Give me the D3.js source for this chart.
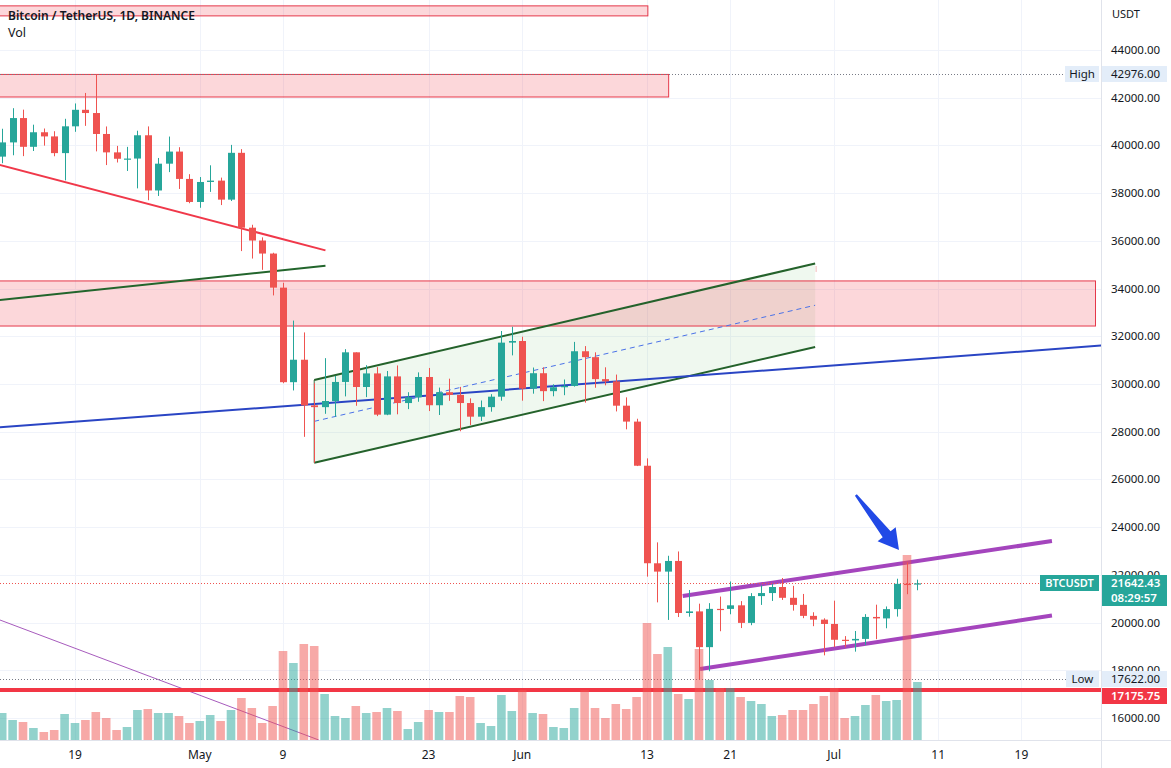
<!DOCTYPE html>
<html><head><meta charset="utf-8">
<script src="https://cdn.jsdelivr.net/npm/d3@7"></script>
<style>
html,body{margin:0;padding:0;background:#fff;overflow:hidden;}
svg{display:block;font-family:"Noto Sans","Open Sans",Roboto,sans-serif;}
</style></head><body>
<svg id="c" width="1171" height="768"></svg>
<script>
// ---------------- DATA ----------------
const dates = [
"2022-04-12","2022-04-13","2022-04-14","2022-04-15","2022-04-16","2022-04-17","2022-04-18","2022-04-19","2022-04-20","2022-04-21",
"2022-04-22","2022-04-23","2022-04-24","2022-04-25","2022-04-26","2022-04-27","2022-04-28","2022-04-29","2022-04-30",
"2022-05-01","2022-05-02","2022-05-03","2022-05-04","2022-05-05","2022-05-06","2022-05-07","2022-05-08","2022-05-09","2022-05-10",
"2022-05-11","2022-05-12","2022-05-13","2022-05-14","2022-05-15","2022-05-16","2022-05-17","2022-05-18","2022-05-19","2022-05-20",
"2022-05-21","2022-05-22","2022-05-23","2022-05-24","2022-05-25","2022-05-26","2022-05-27","2022-05-28","2022-05-29","2022-05-30","2022-05-31",
"2022-06-01","2022-06-02","2022-06-03","2022-06-04","2022-06-05","2022-06-06","2022-06-07","2022-06-08","2022-06-09","2022-06-10",
"2022-06-11","2022-06-12","2022-06-13","2022-06-14","2022-06-15","2022-06-16","2022-06-17","2022-06-18","2022-06-19","2022-06-20",
"2022-06-21","2022-06-22","2022-06-23","2022-06-24","2022-06-25","2022-06-26","2022-06-27","2022-06-28","2022-06-29","2022-06-30",
"2022-07-01","2022-07-02","2022-07-03","2022-07-04","2022-07-05","2022-07-06","2022-07-07","2022-07-08","2022-07-09"];
const open = [
39530,40127,41147,39942,40552,40378,39678,40801,41493,41358,
40480,39709,39441,39450,40426,38112,39235,39742,38596,
37630,38468,38525,37728,39690,36552,36014,35468,34039,30076,
31017,29103,29030,29287,30086,31328,29874,30444,28715,30319,
29201,29445,30294,29110,29655,29543,29202,28630,29031,29468,31734,
31802,29805,30452,29700,29864,29919,31373,31125,30204,30109,
29091,28424,26574,22485,22136,22583,20401,20468,18970,20574,
20573,20723,19987,21110,21237,21491,21038,20742,20281,20123,
19942,19279,19252,19315,20236,20175,20564,21624,21594];
const high = [
40699,41561,41500,40870,40709,40595,41116,41760,42199,42976,
40795,39980,39940,40616,40797,39474,40372,39925,38795,
38675,39167,38651,40023,39845,36675,36146,35502,34243,32658,
32162,30032,31083,30343,31460,31328,30788,30709,30545,30777,
29656,30487,30672,29850,30223,29879,29398,29309,29573,32222,32399,
31982,30690,30699,29988,30189,31765,31589,31327,30700,30395,
29440,28544,26883,23362,22800,22981,21365,20792,20815,21090,
21723,20900,21233,21558,21614,21868,21539,21200,20432,20179,
20918,19433,19647,20354,20750,20675,21838,22527,21800];
const low = [
39254,39588,39551,39766,39991,39546,38536,40571,40820,39751,
39177,39285,38929,38200,37702,37881,38881,38175,37578,
37386,38052,37500,37670,35571,35258,34785,33713,30033,29730,
27785,26700,28751,28630,29480,29087,29450,28654,28693,28730,
28947,29255,28866,28701,29294,28019,28282,28450,28839,29299,31200,
29301,29594,29282,29485,29531,29890,29218,29843,29944,28850,
28100,26560,21925,20846,20111,20232,20246,17622,17960,19637,
20348,19770,19890,20740,20906,20950,20500,20185,19849,18626,
18975,18966,18781,19055,19304,19761,20250,21189,21355];
const close = [
40127,41147,39942,40552,40378,39678,40801,41493,41358,40480,
39709,39441,39450,40426,38112,39235,39742,38596,37630,
38468,38525,37728,39690,36552,36014,35468,34039,30076,31017,
29103,29030,29287,30086,31328,29874,30444,28715,30319,29201,
29445,30294,29110,29655,29543,29202,28630,29031,29468,31734,31802,
29805,30452,29700,29864,29919,31373,31125,30204,30109,29091,
28424,26574,22487,22136,22583,20401,20468,18970,20574,20573,
20723,19987,21110,21237,21491,21038,20742,20281,20123,19942,
19279,19252,19315,20236,20175,20564,21624,21594,21642.43];
const volume = [ // thousands
27,20,18,12,8,10,26,17,20,28,22,10,13,30,31,27,27,24,17,
19,25,19,30,42,32,17,34,89,77,96,94,46,24,22,34,27,28,32,29,11,18,30,28,28,44,43,17,14,45,29,
50,27,26,13,12,32,50,32,22,36,31,43,117,86,93,46,41,91,60,52,52,43,39,36,24,25,30,30,36,44,
52,22,24,35,45,39,40,185,58];

const priceTicks = [16000,18000,20000,22000,24000,26000,28000,30000,32000,34000,36000,38000,40000,42000,44000];
const timeTickDates = ["2022-04-19","2022-05-01","2022-05-09","2022-05-23","2022-06-01","2022-06-13","2022-06-21","2022-07-01","2022-07-11","2022-07-19"];
const timeTickLabels = ["19","May","9","23","Jun","13","21","Jul","11","19"];

const symbolTitle = "Bitcoin / TetherUS, 1D, BINANCE";
const lastPrice = 21642.43;
const countdown = "08:29:57";
const supportLevel = 17175.75;

// drawings (date, price)
const zoneBoxes = [
  {x0:"2022-04-01T00:00", x1:"2022-06-13T02:00", top:45850, bottom:45430},
  {x0:"2022-04-01T00:00", x1:"2022-06-15T02:00", top:42976, bottom:42030},
  {x0:"2022-04-01T00:00", x1:"2022-07-26T03:00", top:34320, bottom:32430}
];
const redTrend    = [["2022-04-11T00:00",39270],["2022-05-13T02:00",35600]];
const greenTrend  = [["2022-04-11T00:00",33484],["2022-05-13T02:00",34960]];
const blueTrend   = [["2022-04-11T00:00",28160],["2022-07-27T00:00",31621]];
const violetTrend = [["2022-04-11T00:00",20236],["2022-05-12T10:30",15078]];
const channelDates = ["2022-05-12T00:00","2022-06-29T04:00"];
const channelUpper = [30168,35051];
const channelLower = [26700,31550];
const purpleUpper = [["2022-06-16T10:24",21114],["2022-07-21T22:30",23419]];
const purpleLower = [["2022-06-18T02:24",18054],["2022-07-21T22:30",20296]];
const arrowTail = ["2022-07-03T02:00",25347];
const arrowTip  = ["2022-07-07T05:30",23042];

// ---------------- CHART ----------------
const W = 1171, H = 768, plotRight = 1101, paneBottom = 740;
const UP = "#26a69a", DOWN = "#ef5350";
const pd = d3.utcParse("%Y-%m-%d");
const pt = d3.utcParse("%Y-%m-%dT%H:%M");

const x = d3.scaleUtc().domain([pd("2022-04-12"), pd("2022-07-19")]).range([2.2, 1021.4]);
const y = d3.scaleLinear().domain([16000, 44000]).range([718, 50]);
const yv = d3.scaleLinear().domain([0, 185]).range([paneBottom, 555]);

const svg = d3.select("#c");
svg.append("rect").attr("width",W).attr("height",H).attr("fill","#fff");
svg.append("defs").append("clipPath").attr("id","plot")
  .append("rect").attr("x",0).attr("y",0).attr("width",plotRight).attr("height",paneBottom);

const plot = svg.append("g").attr("clip-path","url(#plot)");

// grid
plot.append("g").selectAll("line").data(priceTicks).join("line")
  .attr("x1",0).attr("x2",plotRight)
  .attr("y1",d=>Math.round(y(d))+0.5).attr("y2",d=>Math.round(y(d))+0.5)
  .attr("stroke","#f0f3fa").attr("stroke-width",1);
plot.append("g").selectAll("line").data(timeTickDates).join("line")
  .attr("x1",d=>Math.round(x(pd(d)))+0.5).attr("x2",d=>Math.round(x(pd(d)))+0.5)
  .attr("y1",0).attr("y2",paneBottom)
  .attr("stroke","#f0f3fa").attr("stroke-width",1);

// green channel fill (below zones)
const cx0 = x(pt(channelDates[0])), cx1 = x(pt(channelDates[1]));
plot.append("path")
  .attr("d", `M${cx0},${y(channelUpper[0])}L${cx1},${y(channelUpper[1])}L${cx1},${y(channelLower[1])}L${cx0},${y(channelLower[0])}Z`)
  .attr("fill","rgba(76,175,80,0.09)");

// zone boxes
plot.append("g").selectAll("rect").data(zoneBoxes).join("rect")
  .attr("x",d=>x(pt(d.x0))).attr("width",d=>x(pt(d.x1))-x(pt(d.x0)))
  .attr("y",d=>y(d.top)).attr("height",d=>y(d.bottom)-y(d.top))
  .attr("fill","rgba(242,54,69,0.2)").attr("stroke","#e5384a").attr("stroke-width",1);

// channel lines
plot.append("line").attr("x1",cx0).attr("x2",cx0).attr("y1",y(channelUpper[0])).attr("y2",y(channelLower[0]))
  .attr("stroke","#3d6e42").attr("stroke-width",1);
plot.append("line").attr("x1",cx0).attr("x2",cx1)
  .attr("y1",y((channelUpper[0]+channelLower[0])/2)).attr("y2",y((channelUpper[1]+channelLower[1])/2))
  .attr("stroke","#4a72e8").attr("stroke-width",1).attr("stroke-dasharray","5,4");
[channelUpper, channelLower].forEach(c=>{
  plot.append("line").attr("x1",cx0).attr("x2",cx1).attr("y1",y(c[0])).attr("y2",y(c[1]))
    .attr("stroke","#24622b").attr("stroke-width",2);
});
plot.append("line").attr("x1",cx1+1).attr("x2",cx1+1).attr("y1",y(channelUpper[1])+3).attr("y2",y(channelUpper[1])+9)
  .attr("stroke","#e57373").attr("stroke-width",1).attr("stroke-dasharray","1,1");

// trend lines
function seg(p, color, w){
  plot.append("line")
    .attr("x1",x(pt(p[0][0]))).attr("y1",y(p[0][1]))
    .attr("x2",x(pt(p[1][0]))).attr("y2",y(p[1][1]))
    .attr("stroke",color).attr("stroke-width",w).attr("stroke-linecap","butt");
}
seg(redTrend, "#f0384a", 2);
seg(greenTrend, "#22652c", 2);
seg(blueTrend, "#2a45c4", 2);
seg(violetTrend, "#a75bbd", 1);
seg(purpleUpper, "#a445bd", 4);
seg(purpleLower, "#a445bd", 4);

// horizontal levels
const hiVal = d3.max(high), loVal = d3.min(low);
plot.append("line").attr("x1",0).attr("x2",plotRight).attr("y1",y(supportLevel)).attr("y2",y(supportLevel))
  .attr("stroke","#f23645").attr("stroke-width",4);
plot.append("line").attr("x1",0).attr("x2",1065).attr("y1",Math.round(y(hiVal))+0.5).attr("y2",Math.round(y(hiVal))+0.5)
  .attr("stroke","#787b86").attr("stroke-width",1).attr("stroke-dasharray","1,2");
plot.append("line").attr("x1",0).attr("x2",1066).attr("y1",Math.round(y(loVal))+0.5).attr("y2",Math.round(y(loVal))+0.5)
  .attr("stroke","#787b86").attr("stroke-width",1).attr("stroke-dasharray","1,2");
plot.append("line").attr("x1",0).attr("x2",1040).attr("y1",Math.round(y(lastPrice))+0.5).attr("y2",Math.round(y(lastPrice))+0.5)
  .attr("stroke","#ef5350").attr("stroke-width",1).attr("stroke-dasharray","1,2");

// data
const bars = dates.map((d,i)=>({t:pd(d), o:open[i], h:high[i], l:low[i], c:close[i], v:volume[i]}));

// volume
const vw = 8.6;
plot.append("g").selectAll("rect").data(bars).join("rect")
  .attr("x",d=>x(d.t)-vw/2).attr("width",vw)
  .attr("y",d=>yv(d.v)).attr("height",d=>paneBottom-yv(d.v))
  .attr("fill",d=>d.c>=d.o?"rgba(38,166,154,0.5)":"rgba(239,83,80,0.5)");

// candles
const bw = 7;
const cg = plot.append("g").selectAll("g").data(bars).join("g");
cg.append("line")
  .attr("x1",d=>Math.round(x(d.t))+0.5).attr("x2",d=>Math.round(x(d.t))+0.5)
  .attr("y1",d=>y(d.h)).attr("y2",d=>y(d.l))
  .attr("stroke",d=>d.c>=d.o?UP:DOWN).attr("stroke-width",1);
cg.append("rect")
  .attr("x",d=>Math.round(x(d.t))+0.5-bw/2).attr("width",bw)
  .attr("y",d=>y(Math.max(d.o,d.c)))
  .attr("height",d=>Math.max(1.2, Math.abs(y(d.o)-y(d.c))))
  .attr("fill",d=>d.c>=d.o?UP:DOWN);

// arrow
(function(){
  const tx = x(pt(arrowTail[0])), ty = y(arrowTail[1]);
  const px = x(pt(arrowTip[0])), py = y(arrowTip[1]);
  const L = Math.hypot(px-tx, py-ty), ux=(px-tx)/L, uy=(py-ty)/L, nx=-uy, ny=ux;
  const bx = px-ux*20, by = py-uy*20;
  const P = [[tx+nx*1.2,ty+ny*1.2],[bx+nx*5,by+ny*5],[bx+nx*11.5,by+ny*11.5],[px,py],
             [bx-nx*11.5,by-ny*11.5],[bx-nx*5,by-ny*5],[tx-nx*1.2,ty-ny*1.2]];
  plot.append("path").attr("d","M"+P.map(p=>p.join(",")).join("L")+"Z").attr("fill","#2149e6");
})();

// borders
svg.append("line").attr("x1",plotRight+0.5).attr("x2",plotRight+0.5).attr("y1",0).attr("y2",H)
  .attr("stroke","#e0e3eb");
svg.append("line").attr("x1",0).attr("x2",W).attr("y1",paneBottom+0.5).attr("y2",paneBottom+0.5)
  .attr("stroke","#e0e3eb");

// price axis labels
const ax = svg.append("g").attr("font-size","11.5px").attr("fill","#131722");
ax.selectAll("text").data(priceTicks).join("text")
  .attr("x",1111).attr("y",d=>y(d)+4).text(d=>d.toFixed(2));
svg.append("text").attr("x",1112).attr("y",18).attr("font-size","11px").attr("fill","#131722").text("USDT");

// time axis labels
svg.append("g").attr("font-size","12px").attr("fill","#131722").selectAll("text")
  .data(timeTickDates).join("text")
  .attr("x",d=>x(pd(d))).attr("y",759).attr("text-anchor","middle")
  .text((d,i)=>timeTickLabels[i]);

// label boxes
function box(x0,y0,w,h,fill){ svg.append("rect").attr("x",x0).attr("y",y0).attr("width",w).attr("height",h).attr("fill",fill); }
function txt(x0,y0,s,fill,anchor,weight,size){ svg.append("text").attr("x",x0).attr("y",y0).attr("fill",fill)
  .attr("text-anchor",anchor||"start").attr("font-weight",weight||400).attr("font-size",(size||11.5)+"px").text(s); }
const hy = Math.round(y(hiVal)), ly = Math.round(y(loVal)), cy = Math.round(y(lastPrice));
box(1065,hy-8,34,16,"#e3edf9"); txt(1082,hy+4,"High","#131722","middle");
box(1102,hy-8,65,16,"#e3edf9"); txt(1111,hy+4,hiVal.toFixed(2),"#131722");
box(1066,ly-8,33,16,"#e3edf9"); txt(1082.5,ly+4,"Low","#131722","middle");
box(1102,ly-8,65,16,"#e3edf9"); txt(1111,ly+4,loVal.toFixed(2),"#131722");
box(1102,ly+9,65,16,"#f23645"); txt(1111,ly+21,supportLevel.toFixed(2),"#ffffff","start",600);
box(1040,cy-8,59,16,UP); txt(1069.5,cy+4,"BTCUSDT","#ffffff","middle",600,11);
box(1102,cy-8,65,31,UP); txt(1111,cy+4,lastPrice.toFixed(2),"#ffffff","start",600);
txt(1111,cy+19,countdown,"#ffffff","start",600);

// title
txt(8,20,symbolTitle,"#131722","start",600,12);
txt(8,37,"Vol","#131722","start",400,12.5);
</script>
</body></html>
